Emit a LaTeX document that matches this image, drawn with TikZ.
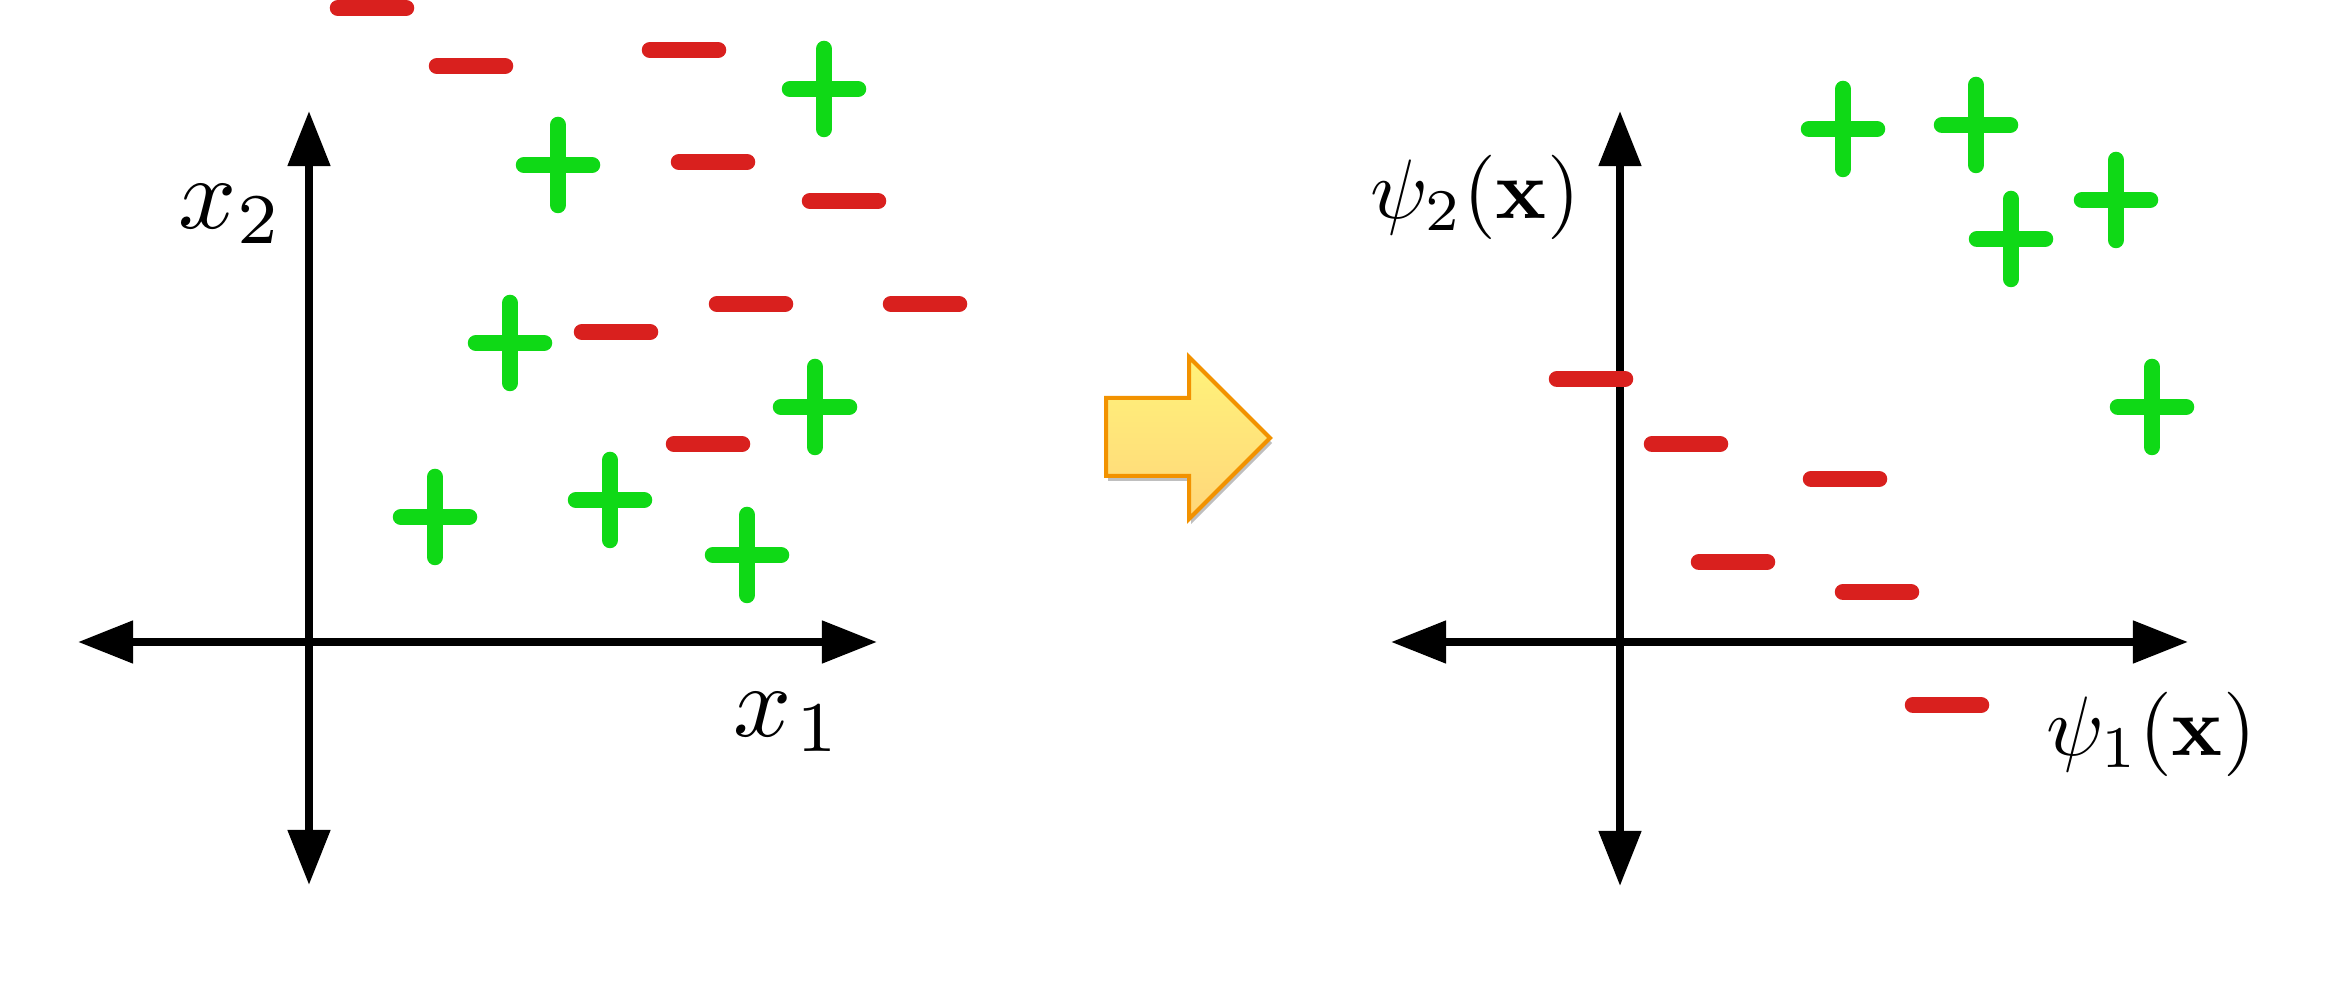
\documentclass[tikz,border=0pt]{standalone}
\usepackage{amsmath}
\usetikzlibrary{arrows.meta,shadows}

\definecolor{negred}{RGB}{217,32,30}
\definecolor{posgreen}{RGB}{15,217,22}
\definecolor{arrowtop}{RGB}{255,243,122}
\definecolor{arrowbot}{RGB}{255,214,122}
\definecolor{arrowedge}{RGB}{242,146,0}

\begin{document}
\begin{tikzpicture}[x=0.01cm, y=-0.01cm,
    axis/.style={line width=0.08cm,
        {Triangle[length=0.55cm,width=0.41cm]}-{Triangle[length=0.55cm,width=0.41cm]}},
    negmark/.style={negred, line width=0.165cm, line cap=round},
    posmark/.style={posgreen, line width=0.165cm, line cap=round},
    lbl/.style={inner sep=0pt}]
    \useasboundingbox (0,0) rectangle (2333,983);

    % Axes (input space)
    \coordinate (l-west)  at (78,642);
    \coordinate (l-east)  at (877,642);
    \coordinate (l-north) at (309,111);
    \coordinate (l-south) at (309,885);
    \draw[axis] (l-west) -- (l-east);
    \draw[axis] (l-south) -- (l-north);
    \node[lbl, scale=2.9] (x-two) at (231,214) {$x_2$};
    \node[lbl, scale=2.9] (x-one) at (788,722) {$x_{\mkern1mu 1}$};

    % Samples (input space)
    \foreach \x/\y in {372/8, 471/66, 684/50, 713/162, 844/201,
                       751/304, 925/304, 616/332, 708/444}
        \draw[negmark] (\x-34,\y) -- (\x+34,\y);
    \foreach \x/\y in {824/89, 558/165, 510/343, 815/407,
                       435/517, 610/500, 747/555}
        \draw[posmark] (\x-34,\y) -- (\x+34,\y) (\x,\y-40) -- (\x,\y+40);

    % Mapping arrow
    \path[draw=arrowedge, line width=0.04cm, top color=arrowtop, bottom color=arrowbot,
          drop shadow={shadow xshift=0.02cm, shadow yshift=-0.05cm, opacity=0.25, fill=black}]
        (1106,398) -- (1189,398) -- (1189,357) -- (1270,438)
        -- (1189,519) -- (1189,476) -- (1106,476) -- cycle;

    % Axes (feature space)
    \coordinate (r-west)  at (1391,642);
    \coordinate (r-east)  at (2188,642);
    \coordinate (r-north) at (1620,111);
    \coordinate (r-south) at (1620,886);
    \draw[axis] (r-west) -- (r-east);
    \draw[axis] (r-south) -- (r-north);
    \node[lbl, scale=2.4] (psi-two) at (1475,197) {$\psi_2(\mathbf{x})$};
    \node[lbl, scale=2.4] (psi-one) at (2151,734) {$\psi_1(\mathbf{x})$};

    % Samples (feature space)
    \foreach \x/\y in {1591/379, 1686/444, 1845/479, 1733/562, 1877/592, 1947/705}
        \draw[negmark] (\x-34,\y) -- (\x+34,\y);
    \foreach \x/\y in {1843/129, 1976/125, 2011/239, 2116/200, 2152/407}
        \draw[posmark] (\x-34,\y) -- (\x+34,\y) (\x,\y-40) -- (\x,\y+40);
\end{tikzpicture}
\end{document}
